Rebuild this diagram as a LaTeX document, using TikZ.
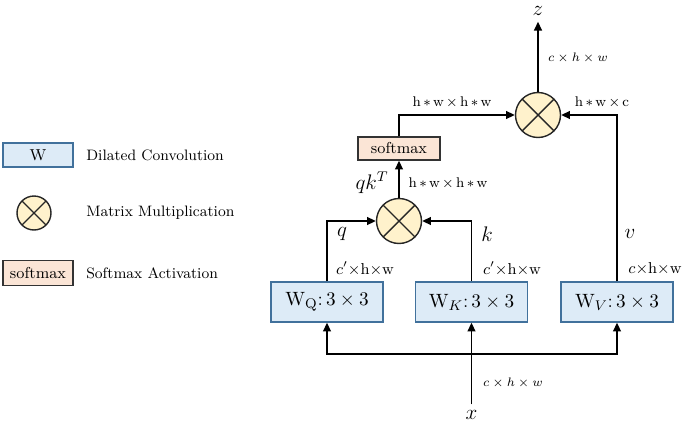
\documentclass[tikz,border=0pt]{standalone}
\usepackage{amsmath,amssymb}
\usepackage{tikz}
\usetikzlibrary{arrows.meta,positioning,calc}

\definecolor{convfill}{HTML}{DDEBF7}
\definecolor{convline}{HTML}{41719C}
\definecolor{mulfill}{HTML}{FFF2CC}
\definecolor{softfill}{HTML}{FBE5D6}

\tikzset{
  conv/.style={draw=convline, fill=convfill, line width=0.8pt, minimum width=2.24cm, minimum height=0.8cm, inner sep=0pt, font=\fontsize{11}{13}\selectfont},
  legconv/.style={conv, minimum width=1.4cm, minimum height=0.48cm, font=\small},
  mul/.style={circle, draw=black!85, fill=mulfill, line width=0.8pt, minimum size=0.9cm, inner sep=0pt,
    path picture={\draw[line width=0.8pt] (path picture bounding box.south west) -- (path picture bounding box.north east)
      (path picture bounding box.north west) -- (path picture bounding box.south east);}},
  softbox/.style={draw=black!80, fill=softfill, line width=0.8pt, minimum width=1.64cm, minimum height=0.46cm, inner sep=0pt, font=\small},
  legtext/.style={anchor=west, inner sep=0pt, font=\fontsize{8.6}{10}\selectfont},
  dim/.style={font=\footnotesize},
  dimit/.style={font=\scriptsize},
  dimc/.style={font=\fontsize{9}{11}\selectfont},
  flow/.style={-{Triangle[length=5pt,width=4.5pt]}, line width=0.8pt}
}

\begin{document}
\begin{tikzpicture}[x=0.02cm, y=-0.02cm]
  \useasboundingbox (0,0) rectangle (685,426);
  % legend
  \node[legconv] (lw) at (38,155) {W};
  \node[legtext] (lwtxt) at (86,155) {Dilated Convolution};
  \node[mul, minimum size=0.68cm] (lm) at (34,213) {};
  \node[legtext] (lmtxt) at (86,213) {Matrix Multiplication};
  \node[softbox, minimum width=1.4cm, minimum height=0.5cm] (ls) at (38,273) {softmax};
  \node[legtext] (lstxt) at (86,273) {Softmax Activation};

  % convolutions
  \node[conv] (wq) at (327,302) {$\mathrm{W}_{\mathrm{Q}}$:\,$3\times 3$};
  \node[conv] (wk) at (471.5,302) {$\mathrm{W}_{K}$:\,$3\times 3$};
  \node[conv] (wv) at (617,302) {$\mathrm{W}_{V}$:\,$3\times 3$};

  % multiplications and softmax
  \node[mul] (mulqk) at (399,221) {};
  \node[softbox] (soft) at (399,148.5) {softmax};
  \node[mul] (mulv) at (538,115) {};

  % input and output
  \node[font=\large] (x) at (471.5,415) {$x$};
  \node[font=\large] (z) at (538,11) {$z$};
  \coordinate (bus) at (471.5,354);

  % connectors
  \draw[flow] (x) -- (wk);
  \draw[flow] (bus) -| (wq);
  \draw[flow] (bus) -| (wv);
  \draw[flow] (wq.north) |- (mulqk.west);
  \draw[flow] (wk.north) |- (mulqk.east);
  \draw[flow] (mulqk) -- (soft);
  \draw[flow] (soft.north) |- (mulv.west);
  \draw[flow] (wv.north) |- (mulv.east);
  \draw[flow] (mulv) -- (z);

  % labels
  \node[dimit] (dz) at (578,58) {$c\times h\times w$};
  \node[dim] (dsm) at (452,102) {h\,$*$\,w\,$\times$\,h\,$*$\,w};
  \node[dim] (dv2) at (602,102) {h\,$*$\,w\,$\times$\,c};
  \node[font=\large] (qkt) at (372,183) {$qk^{T}$};
  \node[dim] (dqk) at (448,183) {h\,$*$\,w\,$\times$\,h\,$*$\,w};
  \node[font=\large] (lq) at (342,234) {$q$};
  \node[font=\large] (lk) at (487,234) {$k$};
  \node[font=\large] (lv) at (630,234) {$v$};
  \node[dimc] (dq) at (365,269) {$c'\times$h$\times$w};
  \node[dimc] (dk) at (512,269) {$c'\times$h$\times$w};
  \node[dimc] (dv) at (655,269) {$c\times$h$\times$w};
  \node[dimit] (dx) at (513,383) {$c\times h\times w$};
\end{tikzpicture}
\end{document}
